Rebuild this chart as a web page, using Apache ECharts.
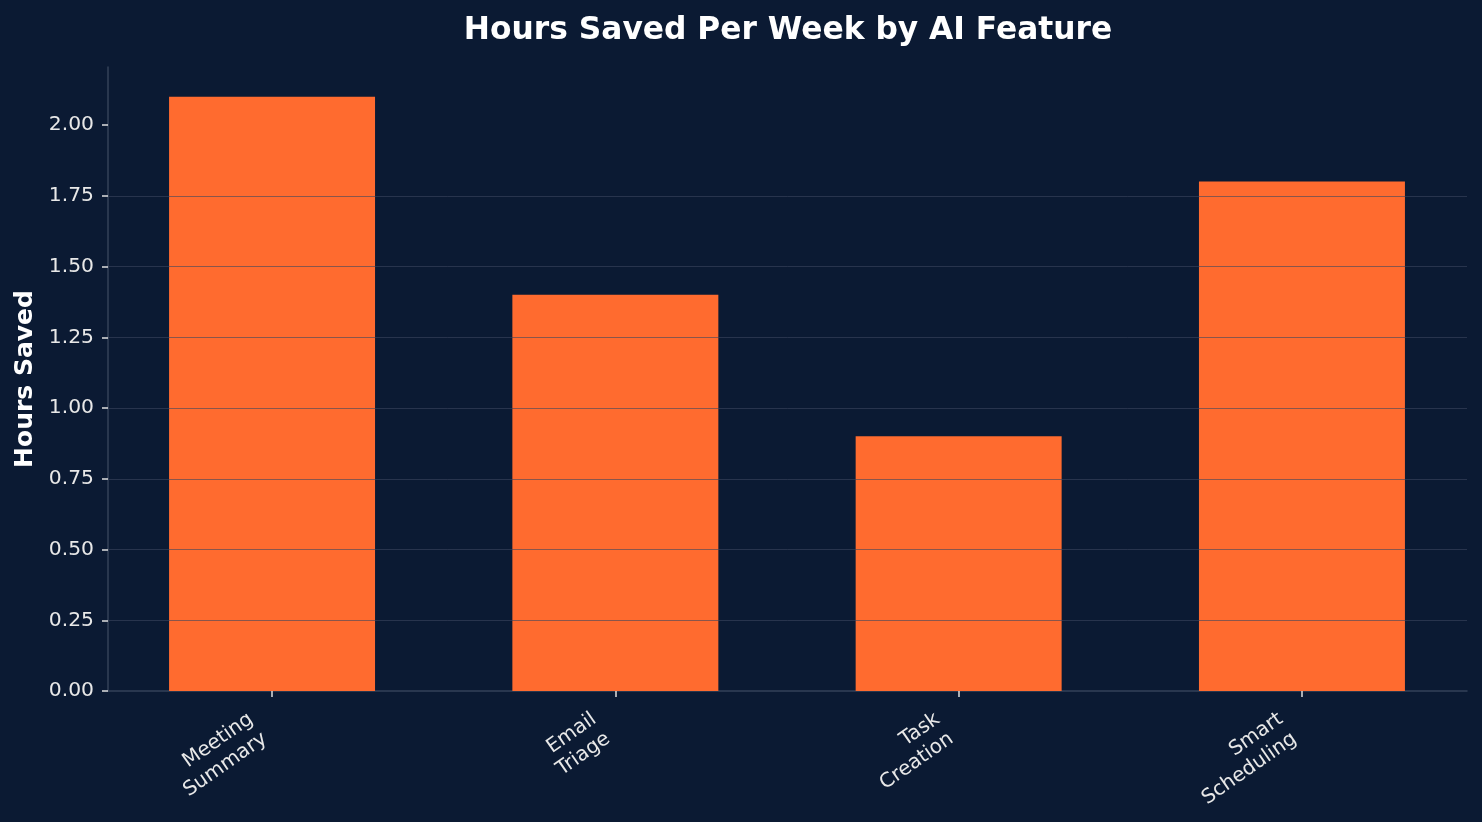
<!DOCTYPE html>
<html>
<head>
<meta charset="utf-8">
<script src="https://cdn.jsdelivr.net/npm/echarts@6/dist/echarts.min.js"></script>
<style>
html,body{margin:0;padding:0;background:#0b1a33;}
#c{width:1482px;height:822px;}
</style>
</head>
<body>
<div id="c"></div>
<script>
const titleText = 'Hours Saved Per Week by AI Feature';
const yAxisName = 'Hours Saved';
const categories = ['Meeting\nSummary', 'Email\nTriage', 'Task\nCreation', 'Smart\nScheduling'];
const hoursSaved = [2.1, 1.4, 0.9, 1.8];
const yTicks = [0, 0.25, 0.5, 0.75, 1.0, 1.25, 1.5, 1.75, 2.0];
const yMax = 2.205;

const chart = echarts.init(document.getElementById('c'), null, {renderer: 'canvas'});
const font = 'DejaVu Sans';
const plotTop = 67, plotBottom = 822 - 691;
const option = {
  backgroundColor: '#0b1a33',
  animation: false,
  title: {
    text: titleText, left: 783, top: 10, textAlign: 'center',
    textStyle: {color: '#ffffff', fontFamily: font, fontWeight: 'bold', fontSize: 31.3}
  },
  grid: [
    {left: 108, right: 15, top: plotTop, bottom: plotBottom},
    {left: 100.4, width: 1373.2, top: plotTop, bottom: plotBottom}
  ],
  xAxis: [
    {type: 'value', gridIndex: 0, min: 0, max: 1,
     axisLine: {show: true, lineStyle: {color: '#344259', width: 1.5}},
     axisTick: {show: false}, axisLabel: {show: false}, splitLine: {show: false}},
    {type: 'category', gridIndex: 1, data: categories,
     axisLine: {show: false},
     axisTick: {show: true, alignWithLabel: true, length: 6, lineStyle: {color: '#e0e0e0', width: 1.5}},
     axisLabel: {rotate: 35, color: '#e8e8e8', fontFamily: font, fontSize: 20, margin: -3,
       align: 'right', verticalAlign: 'top', lineHeight: 24, padding: [0, 34, 0, 0]}}
  ],
  yAxis: [
    {type: 'value', gridIndex: 0, min: 0, max: yMax, z: 5,
     name: yAxisName, nameLocation: 'middle', nameGap: 70,
     nameTextStyle: {color: '#ffffff', fontFamily: font, fontWeight: 'bold', fontSize: 25},
     axisLine: {show: true, lineStyle: {color: '#344259', width: 1.5}},
     axisTick: {show: true, length: 6, customValues: yTicks, lineStyle: {color: '#e0e0e0', width: 1.5}},
     axisLabel: {color: '#e8e8e8', fontFamily: font, fontSize: 20.3, margin: 14, customValues: yTicks,
       formatter: v => v.toFixed(2)},
     splitLine: {show: true, showMinLine: false, showMaxLine: false,
       lineStyle: {color: 'rgba(60,70,95,0.6)', width: 1}}},
    {type: 'value', gridIndex: 1, min: 0, max: yMax, show: false, splitLine: {show: false}}
  ],
  series: [{
    type: 'bar', xAxisIndex: 1, yAxisIndex: 1, data: hoursSaved, z: 1,
    barWidth: '60%',
    itemStyle: {color: '#ff6b2f'}
  }]
};
chart.setOption(option);
</script>
</body>
</html>
